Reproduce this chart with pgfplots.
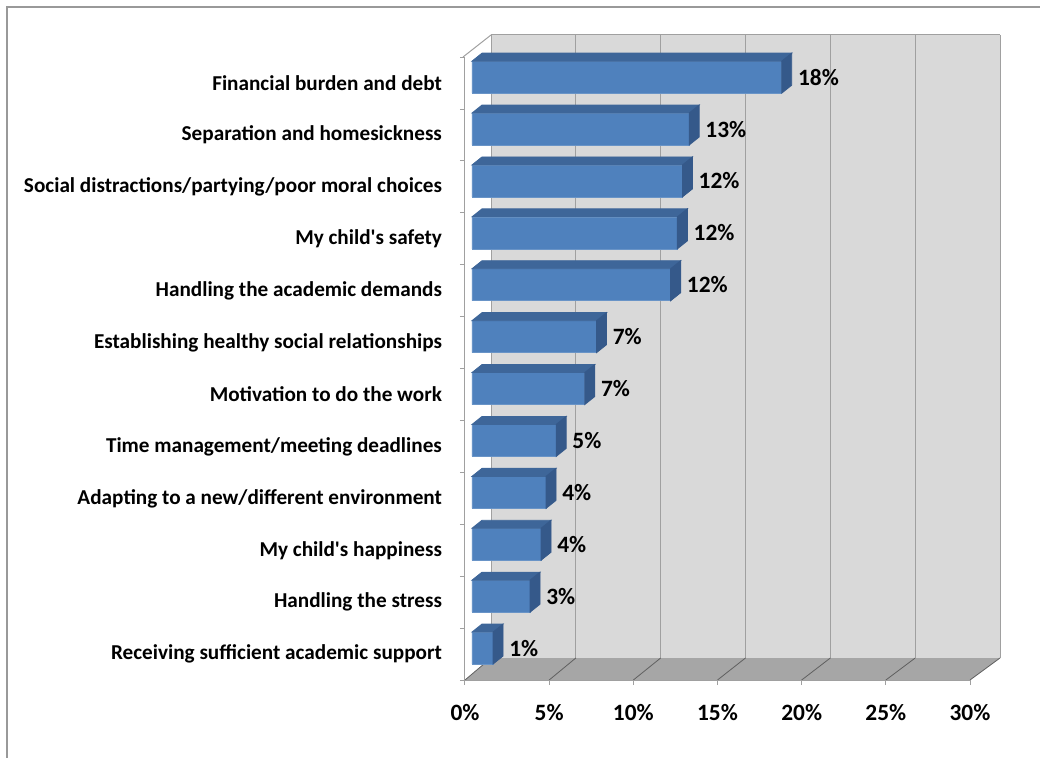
\documentclass[border=0pt]{standalone}
\usepackage{pgfplots}
\pgfplotsset{compat=1.18}
\usepackage{pgfplotstable}
\usepackage{fontspec}
\setmainfont{Carlito}
\definecolor{barfront}{HTML}{4F81BD}
\definecolor{bartop}{HTML}{3E6699}
\definecolor{barside}{HTML}{35598A}
\definecolor{wall}{HTML}{D9D9D9}
\definecolor{floorc}{HTML}{A6A6A6}
\definecolor{gridc}{HTML}{A0A0A0}
\pgfdeclareplotmark{none3d}{}
\pgfplotstableread{
pos val lab
0 1.25 1\%
1 3.45 3\%
2 4.1 4\%
3 4.4 4\%
4 5.0 5\%
5 6.7 7\%
6 7.4 7\%
7 11.8 12\%
8 12.2 12\%
9 12.5 12\%
10 12.9 13\%
11 18.4 18\%
}\datatable
\newcommand{\lblfont}{\bfseries\fontsize{10.6}{12}\selectfont}
\newcommand{\pctfont}{\bfseries\fontsize{11.7}{13}\selectfont}
\begin{document}
\begin{tikzpicture}
\useasboundingbox (0,0) rectangle (520pt,378.5pt);
% pixel-coordinate scope for chart frame / walls
\begin{scope}[yshift=378.5pt,x=0.5pt,y=-0.5pt]
\draw[gray!80,line width=0.6pt] (7,760) -- (7,7) -- (1045,7);
\fill[wall] (491,35) rectangle (1000,658);
\fill[floorc] (465,680) -- (970,680) -- (1000,658) -- (491,658) -- cycle;
\foreach \i in {0,...,6}{
  \draw[gridc,line width=0.5pt] ({491+509/6*\i},35) -- ({491+509/6*\i},658);
  \draw[gray!75!black,line width=0.4pt] ({465+505/6*\i},680) -- ({491+509/6*\i},658);
}
\draw[gridc,line width=0.5pt] (491,35) -- (1000,35);
\draw[gridc,line width=0.5pt] (463,57) -- (491,35);
\end{scope}
\begin{axis}[
  at={(232.5pt,38.5pt)}, anchor=south west,
  x=8.4167pt, y=25.95pt,
  xmin=0, xmax=30, ymin=-0.5, ymax=11.5,
  axis lines*=left,
  axis line style={gridc,line width=0.5pt},
  xtick={0,5,...,30},
  xticklabels={0\%,5\%,10\%,15\%,20\%,25\%,30\%},
  ytick={0,...,11},
  yticklabels={Receiving sufficient academic support,Handling the stress,My child\textquotesingle s happiness,Adapting to a new/different environment,Time management/meeting deadlines,Motivation to do the work,Establishing healthy social relationships,Handling the academic demands,My child\textquotesingle s safety,Social distractions/partying/poor moral choices,Separation and homesickness,Financial burden and debt},
  minor ytick={-0.5,0.5,...,11.5},
  major tick length=0pt,
  minor tick length=2.5pt,
  tick align=outside,
  minor tick style={gridc,line width=0.5pt},
  extra x ticks={0,5,...,30},
  extra x tick labels={},
  extra x tick style={major tick length=2.5pt, tick style={gridc,line width=0.5pt}},
  yticklabel style={font=\lblfont, text=black, xshift=-8pt},
  xticklabel style={font=\pctfont, text=black, yshift=-8.5pt},
  clip=false,
]
\addplot[xbar, bar width=16pt, fill=barfront, draw=barfront!85!white, line width=0.3pt,
  xshift=3.5pt, yshift=3pt,
  nodes near coords, point meta=explicit symbolic,
  every node near coord/.append style={anchor=west, xshift=7pt, yshift=0pt, inner xsep=1pt,
     font=\pctfont, text=black}]
  table[x=val,y=pos,meta=lab]{\datatable};
\addplot[scatter, only marks, mark=none3d, xshift=3.5pt, yshift=3pt,
  point meta=\thisrow{val},
  visualization depends on={\thisrow{val}*8.4167 \as \blen},
  scatter/@pre marker code/.code={%
    \fill[bartop] ({-\blen*1pt},8pt) -- (0pt,8pt) -- (5pt,12pt) -- ({-\blen*1pt+5pt},12pt) -- cycle;
    \fill[barside] (0pt,-8pt) -- (5pt,-4pt) -- (5pt,12pt) -- (0pt,8pt) -- cycle;
  },
  scatter/@post marker code/.code={},
  ]
  table[x=val,y=pos]{\datatable};
\end{axis}
\end{tikzpicture}
\end{document}
